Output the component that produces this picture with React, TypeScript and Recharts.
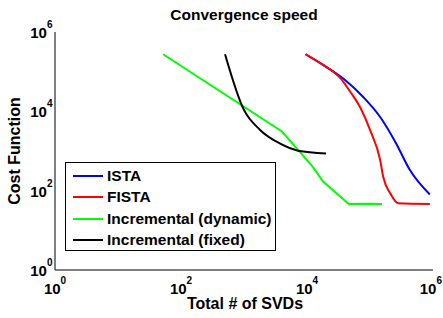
import { Legend, Line, LineChart, XAxis, YAxis } from "recharts";

// values
const istaX = [9500, 18000, 38000, 78000, 145000, 260000, 430000, 890000];
const istaY = [275000, 148000, 66000, 23000, 7200, 1550, 330, 80];

const fistaX = [9500, 18000, 35000, 48000, 69000, 100000, 145000, 162000, 210000, 280000, 890000];
const fistaY = [275000, 148000, 65000, 32000, 13000, 3400, 590, 224, 85, 48, 46];

const dynX = [52, 4000, 7200, 12000, 18000, 46000, 90000, 155000];
const dynY = [275000, 3100, 1070, 420, 170, 46, 47, 46];

const fixX = [500, 980, 1800, 3700, 7200, 20000];
const fixY = [275000, 11500, 3400, 1550, 1020, 870];

const seriesNames = ["ISTA", "FISTA", "Incremental (dynamic)", "Incremental (fixed)"];
const seriesColors = ["#0000ff", "#ff0000", "#00ff00", "#000000"];

const ticks = [1, 100, 10000, 1000000];

const toPoints = (xs: number[], ys: number[]) => xs.map((x, i) => ({ x, y: ys[i] }));

const FONT = "'Liberation Sans', Arial, Helvetica, sans-serif";

const exp = (v: number) => Math.round(Math.log10(v));

const XTick = (props: any) => {
    const { x, y, payload } = props;
    const last = payload.value === 1000000;
    return (
        <text
            x={last ? 442 : x}
            y={y + 23.5}
            textAnchor={last ? "end" : "middle"}
            fontFamily={FONT}
            fontWeight="bold"
            fontSize={15}
            fill="#000"
        >
            10
            <tspan dy={-10} fontSize={10}>{exp(payload.value)}</tspan>
        </text>
    );
};

const YTick = (props: any) => {
    const { x, y, payload } = props;
    return (
        <text x={x - 2.5} y={y + 6} textAnchor="end" fontFamily={FONT} fontWeight="bold" fontSize={15} fill="#000">
            10
            <tspan dy={-10} fontSize={10}>{exp(payload.value)}</tspan>
        </text>
    );
};

const LegendBox = () => (
    <div
        style={{
            width: 211,
            height: 89,
            border: "1px solid #000",
            background: "#fff",
            fontFamily: FONT,
            fontWeight: "bold",
            fontSize: 15.5,
            paddingTop: 2,
            boxSizing: "border-box",
        }}
    >
        {seriesNames.map((name, i) => (
            <div key={name} style={{ display: "flex", alignItems: "center", height: 21.5 }}>
                <span style={{ width: 30, height: 2, background: seriesColors[i], marginLeft: 7, marginRight: 4 }} />
                <span style={{ lineHeight: "16px" }}>{name}</span>
            </div>
        ))}
    </div>
);

export default function App() {
    const series = [
        toPoints(istaX, istaY),
        toPoints(fistaX, fistaY),
        toPoints(dynX, dynY),
        toPoints(fixX, fixY),
    ];
    const curve = ["monotone", "monotone", "linear", "monotone"] as const;
    return (
        <div style={{ position: "absolute", left: 0, top: 0, width: 443, height: 318, background: "#fff" }}>
            <svg width={443} height={30} style={{ position: "absolute", left: 0, top: 0 }}>
                <text x={244} y={19.5} textAnchor="middle" fontFamily={FONT} fontWeight="bold" fontSize={15.5} fill="#000">
                    Convergence speed
                </text>
            </svg>
            <LineChart
                width={443}
                height={318}
                margin={{ top: 32, right: 10, bottom: 0, left: 0 }}
                style={{ position: "absolute", left: 0, top: 0 }}
            >
                <XAxis
                    xAxisId={0}
                    dataKey="x"
                    type="number"
                    scale="log"
                    domain={[1, 1000000]}
                    allowDataOverflow
                    ticks={ticks}
                    interval={0}
                    height={48}
                    tickSize={0}
                    tickMargin={0}
                    tick={<XTick />}
                    axisLine={{ stroke: "#000", strokeWidth: 1 }}
                    label={(p: any) => (
                        <text
                            x={p.viewBox.x + p.viewBox.width / 2 + 1}
                            y={p.viewBox.y + 39}
                            textAnchor="middle"
                            fontFamily={FONT}
                            fontWeight="bold"
                            fontSize={16}
                            fill="#000"
                        >
                            Total # of SVDs
                        </text>
                    )}
                />
                <XAxis
                    xAxisId="b"
                    type="number"
                    scale="log"
                    domain={[1, 1000000]}
                    allowDataOverflow
                    ticks={ticks}
                    interval={0}
                    orientation="bottom"
                    mirror
                    height={0}
                    tick={false}
                    tickSize={4}
                    tickLine={{ stroke: "#000" }}
                    axisLine={false}
                />
                <XAxis
                    xAxisId="t"
                    type="number"
                    scale="log"
                    domain={[1, 1000000]}
                    allowDataOverflow
                    ticks={ticks}
                    interval={0}
                    orientation="top"
                    mirror
                    height={0}
                    tick={false}
                    tickSize={4}
                    tickLine={{ stroke: "#000" }}
                    axisLine={{ stroke: "#000", strokeWidth: 1 }}
                />
                <YAxis
                    yAxisId={0}
                    type="number"
                    scale="log"
                    domain={[1, 1000000]}
                    allowDataOverflow
                    ticks={ticks}
                    interval={0}
                    width={55}
                    tickSize={0}
                    tickMargin={0}
                    tick={<YTick />}
                    axisLine={{ stroke: "#000", strokeWidth: 1 }}
                    label={(p: any) => {
                        const cx = 20;
                        const cy = p.viewBox.y + p.viewBox.height / 2;
                        return (
                            <text
                                x={cx}
                                y={cy}
                                transform={`rotate(-90 ${cx} ${cy})`}
                                textAnchor="middle"
                                fontFamily={FONT}
                                fontWeight="bold"
                                fontSize={16}
                                fill="#000"
                            >
                                Cost Function
                            </text>
                        );
                    }}
                />
                <YAxis
                    yAxisId="l"
                    type="number"
                    scale="log"
                    domain={[1, 1000000]}
                    allowDataOverflow
                    ticks={ticks}
                    interval={0}
                    orientation="left"
                    mirror
                    width={0}
                    tick={false}
                    tickSize={4}
                    tickLine={{ stroke: "#000" }}
                    axisLine={false}
                />
                <YAxis
                    yAxisId="r"
                    type="number"
                    scale="log"
                    domain={[1, 1000000]}
                    allowDataOverflow
                    ticks={ticks}
                    interval={0}
                    orientation="right"
                    mirror
                    width={0}
                    tick={false}
                    tickSize={4}
                    tickLine={{ stroke: "#000" }}
                    axisLine={{ stroke: "#000", strokeWidth: 1 }}
                />
                <Legend
                    layout="vertical"
                    align="center"
                    verticalAlign="middle"
                    content={<LegendBox />}
                    wrapperStyle={{ position: "absolute", left: 65, top: 162, width: 211, height: 89 }}
                />
                {series.map((pts, i) => (
                    <Line
                        key={seriesNames[i]}
                        data={pts}
                        dataKey="y"
                        name={seriesNames[i]}
                        type={curve[i]}
                        stroke={seriesColors[i]}
                        strokeWidth={2}
                        dot={false}
                        isAnimationActive={false}
                    />
                ))}
            </LineChart>
        </div>
    );
}
